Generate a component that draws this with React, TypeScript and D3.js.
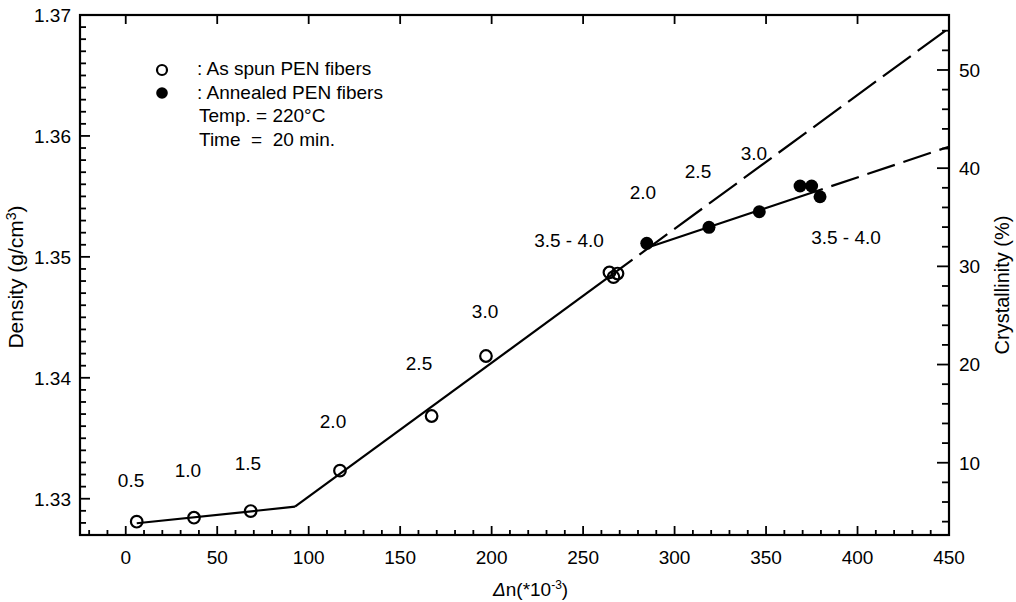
import React from 'react';
import * as d3 from 'd3';

// ---- Data ----
const asSpunDn = [6, 37.3, 68.3, 117.1, 167.2, 196.9, 264.4, 266.6, 268.8];
const asSpunDensity = [1.3281, 1.32843, 1.32898, 1.33232, 1.33684, 1.3418, 1.34871, 1.34833, 1.34862];

const annealedDn = [284.8, 318.8, 346.3, 368.6, 374.9, 379.5];
const annealedDensity = [1.35112, 1.35244, 1.35373, 1.35586, 1.35586, 1.35497];

// fitted lines
const lowFitDn = [6, 92.5];
const lowFitDensity = [1.32797, 1.32934];
const mainFitDn = [92.5, 277];
const mainFitDensity = [1.32934, 1.34977];
const mainExtDn = [277, 450];
const mainExtDensity = [1.34977, 1.36892];
const annFitDn = [286.6, 381];
const annFitDensity = [1.35083, 1.35561];
const annExtDn = [381, 450];
const annExtDensity = [1.35561, 1.35911];

// draw ratio annotations
const ratioLabels = ['0.5', '1.0', '1.5', '2.0', '2.5', '3.0', '3.5 - 4.0', '2.0', '2.5', '3.0', '3.5 - 4.0'];
const ratioDn = [2.9, 34.0, 66.8, 113.3, 160.3, 196.4, 242.3, 282.7, 312.8, 343.4, 393.7];
const ratioDensity = [1.33097, 1.3318, 1.33238, 1.33585, 1.34064, 1.34494, 1.35082, 1.35478, 1.35652, 1.35801, 1.35106];

// axes
const xMajorTicks = [0, 50, 100, 150, 200, 250, 300, 350, 400, 450];
const densityTicks = [1.33, 1.34, 1.35, 1.36, 1.37];
const crystTicks = [10, 20, 30, 40, 50];

const FONT = '"Liberation Sans", Arial, Helvetica, sans-serif';

export default function App() {
  const W = 1016, H = 602;
  const left = 80, right = 949, top = 15, bottom = 535;

  const x = d3.scaleLinear().domain([-25, 450]).range([left, right]);
  const y = d3.scaleLinear().domain([1.327, 1.37]).range([bottom, top]);
  const yc = d3.scaleLinear().domain([2.64, 55.6]).range([bottom, top]);

  const line = d3.line<[number, number]>().x(d => x(d[0])).y(d => y(d[1]));
  const mk = (xs: number[], ys: number[]) => line(xs.map((v, i) => [v, ys[i]] as [number, number])) || '';

  const xMinor = d3.range(-20, 450, 10).filter(v => v % 50 !== 0);
  const yMinor = d3.range(1328, 1370, 1).map(v => v / 1000).filter(v => Math.round(v * 1000) % 10 !== 0);
  const cMinor = d3.range(4, 56, 2).filter(v => v % 10 !== 0);

  const fs = 19;
  const lw = 2.2;

  return (
    <svg width={W} height={H} style={{ position: 'absolute', left: 0, top: 0, background: '#fff' }}
      fontFamily={FONT}>
      <rect x={0} y={0} width={W} height={H} fill="#fff" />
      {/* frame */}
      <rect x={left} y={top} width={right - left} height={bottom - top} fill="none" stroke="#000" strokeWidth={2.2} />

      {/* bottom ticks */}
      {xMinor.map(v => <line key={'xm' + v} x1={x(v)} x2={x(v)} y1={bottom} y2={bottom - 5} stroke="#000" strokeWidth={1.8} />)}
      {xMajorTicks.map(v => <line key={'xM' + v} x1={x(v)} x2={x(v)} y1={bottom} y2={bottom - 9} stroke="#000" strokeWidth={1.8} />)}
      {/* top ticks */}
      {xMajorTicks.map(v => <line key={'xT' + v} x1={x(v)} x2={x(v)} y1={top} y2={top + 9} stroke="#000" strokeWidth={1.8} />)}
      {xMajorTicks.map(v => (
        <text key={'xl' + v} x={x(v)} y={564} textAnchor="middle" fontSize={fs}>{v}</text>
      ))}

      {/* left ticks */}
      {yMinor.map(v => <line key={'ym' + v} x1={left} x2={left + 6} y1={y(v)} y2={y(v)} stroke="#000" strokeWidth={1.8} />)}
      {densityTicks.map(v => <line key={'yM' + v} x1={left} x2={left + 10} y1={y(v)} y2={y(v)} stroke="#000" strokeWidth={1.8} />)}
      {densityTicks.map(v => (
        <text key={'yl' + v} x={71} y={y(v)} dy="0.36em" textAnchor="end" fontSize={fs}>{v.toFixed(2)}</text>
      ))}

      {/* right ticks */}
      {cMinor.map(v => <line key={'cm' + v} x1={right} x2={right - 7} y1={yc(v)} y2={yc(v)} stroke="#000" strokeWidth={1.8} />)}
      {crystTicks.map(v => <line key={'cM' + v} x1={right} x2={right - 12} y1={yc(v)} y2={yc(v)} stroke="#000" strokeWidth={1.8} />)}
      {crystTicks.map(v => (
        <text key={'cl' + v} x={959} y={yc(v)} dy="0.36em" textAnchor="start" fontSize={fs}>{v}</text>
      ))}

      {/* axis titles */}
      <text transform="translate(23,277) rotate(-90)" textAnchor="middle" fontSize={21}>
        Density (g/cm<tspan dy={-7} fontSize={14}>3</tspan><tspan dy={7}>)</tspan>
      </text>
      <text transform="translate(1009,285) rotate(-90)" textAnchor="middle" fontSize={20}>Crystallinity (%)</text>
      <text x={493} y={596} fontSize={19}>
        <tspan fontStyle="italic">Δ</tspan>n(*10<tspan dy={-7} fontSize={12}>-3</tspan><tspan dy={7}>)</tspan>
      </text>

      {/* fitted lines */}
      <path d={mk(lowFitDn, lowFitDensity)} fill="none" stroke="#000" strokeWidth={lw} />
      <path d={mk(mainFitDn, mainFitDensity)} fill="none" stroke="#000" strokeWidth={lw} />
      <path d={mk(mainExtDn, mainExtDensity)} fill="none" stroke="#000" strokeWidth={lw}
        strokeDasharray="34.5 8.6" strokeDashoffset={34.5} />
      <path d={mk(annFitDn, annFitDensity)} fill="none" stroke="#000" strokeWidth={lw} />
      <path d={mk(annExtDn, annExtDensity)} fill="none" stroke="#000" strokeWidth={lw}
        strokeDasharray="29 9" strokeDashoffset={29} />

      {/* points */}
      {asSpunDn.map((v, i) => (
        <circle key={'o' + i} cx={x(v)} cy={y(asSpunDensity[i])} r={5.8} fill="none" stroke="#000" strokeWidth={2.2} />
      ))}
      {annealedDn.map((v, i) => (
        <circle key={'f' + i} cx={x(v)} cy={y(annealedDensity[i])} r={6.5} fill="#000" />
      ))}

      {/* ratio labels */}
      {ratioLabels.map((t, i) => (
        <text key={'r' + i} x={x(ratioDn[i])} y={y(ratioDensity[i])} textAnchor="middle" fontSize={fs}
          style={{ whiteSpace: 'pre' }}>{t}</text>
      ))}

      {/* legend */}
      <circle cx={162} cy={70} r={5} fill="none" stroke="#000" strokeWidth={2.2} />
      <circle cx={162} cy={93} r={5.8} fill="#000" />
      <text x={197} y={75} fontSize={fs}>: As spun PEN fibers</text>
      <text x={197} y={99} fontSize={fs}>: Annealed PEN fibers</text>
      <text x={199} y={122} fontSize={fs}>Temp. = 220°C</text>
      <text x={199} y={146} fontSize={fs} style={{ whiteSpace: 'pre' }}>Time  =  20 min.</text>
    </svg>
  );
}
